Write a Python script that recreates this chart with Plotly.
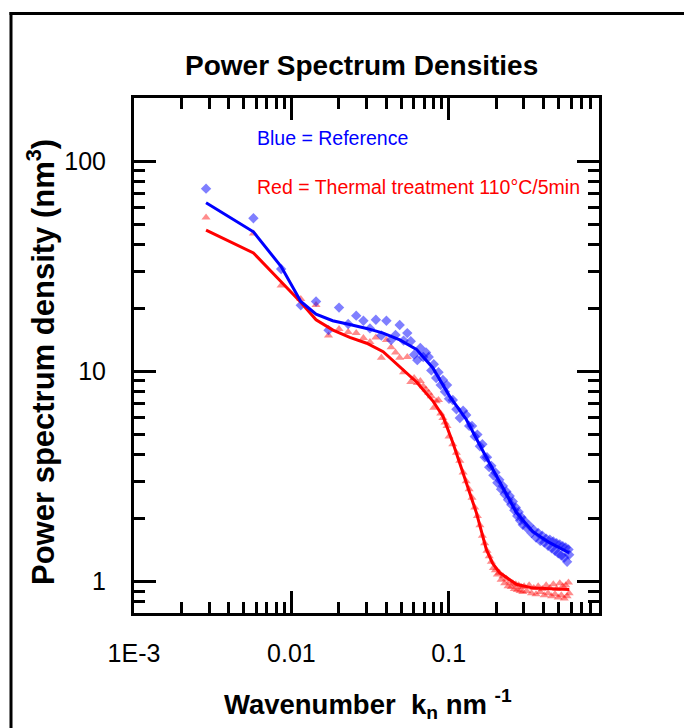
import plotly.graph_objects as go

# ---------------- data ----------------
k_points = [0.00287, 0.00574, 0.00861, 0.01148, 0.01435, 0.01722, 0.02009, 0.02296, 0.02583, 0.0287,
            0.03157, 0.03444, 0.03731, 0.04018, 0.04305, 0.04592, 0.04879, 0.05166, 0.05453, 0.0574,
            0.06027, 0.06314, 0.06601, 0.06888, 0.07175, 0.07462, 0.07749, 0.08036, 0.08323, 0.0861,
            0.08897, 0.09184, 0.09471, 0.09758, 0.10045,
            0.10619, 0.11193, 0.11767, 0.12341, 0.12915, 0.13489, 0.14063, 0.14637, 0.15211, 0.15785,
            0.16359, 0.16933, 0.17507, 0.18081, 0.18655, 0.19229, 0.19803, 0.20377, 0.20951, 0.21525,
            0.22099, 0.22673, 0.23247, 0.23821, 0.24395, 0.24969, 0.25543, 0.26117, 0.26691, 0.27265,
            0.27839, 0.28413, 0.28987, 0.29561, 0.30135,
            0.31283, 0.32431, 0.33579, 0.34727, 0.35875, 0.37023, 0.38171, 0.39319, 0.40467, 0.41615,
            0.42763, 0.43911, 0.45059, 0.46207, 0.47355, 0.48503, 0.49651, 0.50799, 0.51947, 0.53095,
            0.54243, 0.55391, 0.56539, 0.57687, 0.58261]

blue_psd = [74, 53.5, 30.7, 20.6, 21.5, 15.7, 20.1, 16.8, 18.4, 17.4,
            16.0, 17.6, 14.8, 17.4, 14.1, 14.9, 16.6, 14.0, 15.2, 13.9,
            12.0, 11.3, 12.9, 11.7, 12.3, 11.7, 10.1, 10.8, 9.3, 9.9,
            8.6, 9.1, 8.0, 8.6, 7.4,
            7.3, 6.6, 6.0, 6.5, 6.2, 5.5, 5.5, 4.9, 5.0, 4.4,
            4.5, 3.9, 3.9, 3.5, 3.55, 3.2, 3.3, 2.95, 3.05, 2.75,
            2.85, 2.6, 2.68, 2.45, 2.55, 2.32, 2.4, 2.18, 2.25, 2.05,
            2.14, 1.95, 2.02, 1.86, 1.95,
            1.80, 1.85, 1.70, 1.76, 1.62, 1.70, 1.56, 1.65, 1.53, 1.60,
            1.48, 1.58, 1.44, 1.55, 1.40, 1.52, 1.36, 1.50, 1.33, 1.47,
            1.30, 1.45, 1.24, 1.42, 1.34]

red_psd = [53.9, 45.3, 25.6, 22.1, 20.7, 14.8, 15.9, 15.4, 15.2, 14.4,
           13.8, 14.5, 11.6, 14.1, 13.0, 12.3, 11.6, 9.9, 11.7, 8.9,
           9.3, 8.8, 9.0, 8.5, 8.2, 7.9, 7.6, 6.7, 7.2, 7.3,
           6.3, 6.0, 5.7, 5.5, 4.9,
           4.5, 4.1, 3.75, 3.3, 3.0, 2.75, 2.5, 2.25, 2.05, 1.85,
           1.65, 1.52, 1.40, 1.32, 1.24, 1.16, 1.13, 1.08, 1.10, 1.02,
           1.06, 0.98, 1.03, 0.95, 1.00, 0.94, 0.98, 0.92, 0.97, 0.91,
           0.96, 0.90, 0.94, 0.89, 0.95,
           0.90, 0.96, 0.88, 0.93, 0.87, 0.95, 0.89, 0.92, 0.86, 0.96,
           0.88, 0.93, 0.85, 0.97, 0.87, 0.92, 0.84, 0.98, 0.86, 0.95,
           0.83, 0.96, 0.85, 0.99, 0.88]

blue_fit_k = [0.00287, 0.00574, 0.00861, 0.01148, 0.01435, 0.0183, 0.0235, 0.0301, 0.0383, 0.0489,
              0.0624, 0.0791, 0.1014, 0.1294, 0.1643, 0.211, 0.269, 0.341, 0.438, 0.558, 0.583]
blue_fit_psd = [63.4, 46.1, 31.5, 21.5, 18.7, 17.4, 16.7, 16.0, 15.2, 14.1,
                12.7, 10.4, 7.6, 5.9, 4.2, 2.95, 2.13, 1.73, 1.53, 1.39, 1.37]

red_fit_k = [0.00287, 0.00574, 0.00861, 0.01148, 0.01435, 0.0184, 0.0235, 0.0301, 0.0383, 0.0489,
             0.0624, 0.0796, 0.092, 0.1064, 0.1294, 0.150, 0.1734, 0.19, 0.211, 0.269,
             0.343, 0.558, 0.583]
red_fit_psd = [47.0, 36.6, 26.7, 21.3, 17.6, 15.7, 14.5, 13.6, 12.4, 10.5,
               8.9, 7.2, 6.1, 4.56, 2.94, 2.12, 1.42, 1.22, 1.10, 0.97,
               0.93, 0.916, 0.915]

x_tick_vals = [0.001, 0.01, 0.1]
x_tick_text = ["1E-3", "0.01", "0.1"]
y_tick_vals = [1, 10, 100]
y_tick_text = ["1", "10", "100"]

title_text = "Power Spectrum Densities"
x_title = "Wavenumber&nbsp; k<sub>n</sub> nm <sup>-1</sup>"
y_title = "Power spectrum density (nm<sup>3</sup>)"
legend_blue = "Blue = Reference"
legend_red = "Red = Thermal treatment 110°C/5min"

# ---------------- figure ----------------
FONT = "Liberation Sans, Arial, sans-serif"

x_minor = [m * 10.0 ** e for e in (-3, -2, -1) for m in range(2, 10)]
y_minor = [m * 10.0 ** e for e in (-1, 0, 1) for m in range(2, 10) if m * 10.0 ** e >= 0.75]

fig = go.Figure()
fig.add_trace(go.Scatter(x=k_points, y=red_psd, mode="markers",
                         marker=dict(symbol="triangle-up", size=8, color="rgba(255,0,0,0.45)",
                                     line=dict(width=0))))
fig.add_trace(go.Scatter(x=k_points, y=blue_psd, mode="markers",
                         marker=dict(symbol="diamond", size=8, color="rgba(0,0,255,0.5)",
                                     line=dict(width=0))))
fig.add_trace(go.Scatter(x=red_fit_k, y=red_fit_psd, mode="lines",
                         line=dict(color="#ff0000", width=3)))
fig.add_trace(go.Scatter(x=blue_fit_k, y=blue_fit_psd, mode="lines",
                         line=dict(color="#0000ff", width=3)))

axis_common = dict(showline=True, linecolor="black", linewidth=3, mirror="ticks",
                   ticks="inside", ticklen=22, tickwidth=3, tickcolor="black",
                   showgrid=False, zeroline=False,
                   tickfont=dict(family=FONT, size=25, color="black"))

fig.update_xaxes(type="log", range=[-3, -0.045], tickmode="array",
                 tickvals=x_tick_vals, ticktext=x_tick_text, ticklabelstandoff=16,
                 minor=dict(ticks="inside", ticklen=11, tickwidth=3, tickcolor="black",
                            showgrid=False, tickmode="array", tickvals=x_minor),
                 **axis_common)
fig.update_yaxes(type="log", range=[-0.150, 2.3005], tickmode="array",
                 tickvals=y_tick_vals, ticktext=y_tick_text, ticklabelstandoff=20,
                 minor=dict(ticks="inside", ticklen=11, tickwidth=3, tickcolor="black",
                            showgrid=False, tickmode="array", tickvals=y_minor),
                 **axis_common)

W, H = 684, 728
L, R, T, B = 134, 85, 98, 115
pw, ph = W - L - R, H - T - B

def px(xp):
    return (xp - L) / pw

def py(yp):
    return (H - B - yp) / ph

annotations = [
    dict(text=title_text, x=px(361.5), y=py(65), xref="paper", yref="paper",
         xanchor="center", yanchor="middle", showarrow=False,
         font=dict(family=FONT, size=28, color="black", weight="bold")),
    dict(text=x_title, x=px(368), y=py(704), xref="paper", yref="paper",
         xanchor="center", yanchor="middle", showarrow=False,
         font=dict(family=FONT, size=27.5, color="black", weight="bold")),
    dict(text=y_title, x=px(41), y=py(362), xref="paper", yref="paper",
         xanchor="center", yanchor="middle", showarrow=False, textangle=-90,
         font=dict(family=FONT, size=31, color="black", weight="bold")),
    dict(text=legend_blue, x=px(255), y=py(138), xref="paper", yref="paper",
         xanchor="left", yanchor="middle", showarrow=False,
         font=dict(family=FONT, size=19.5, color="#0000ff")),
    dict(text=legend_red, x=px(255), y=py(187), xref="paper", yref="paper",
         xanchor="left", yanchor="middle", showarrow=False,
         font=dict(family=FONT, size=19.5, color="#ff0000")),
]

shapes = [
    dict(type="line", xref="paper", yref="paper", x0=px(11), x1=px(11), y0=py(12), y1=py(760),
         line=dict(color="black", width=3)),
    dict(type="line", xref="paper", yref="paper", x0=px(9.5), x1=px(720), y0=py(13.5), y1=py(13.5),
         line=dict(color="black", width=3)),
]

fig.update_layout(width=W, height=H, margin=dict(l=L, r=R, t=T, b=B, autoexpand=False),
                  paper_bgcolor="white", plot_bgcolor="white", showlegend=False,
                  annotations=annotations, shapes=shapes,
                  font=dict(family=FONT, color="black"))

fig.write_html("out.html", config={"displayModeBar": False},
               post_script="document.body.style.margin='0px';document.body.style.overflow='hidden';")
